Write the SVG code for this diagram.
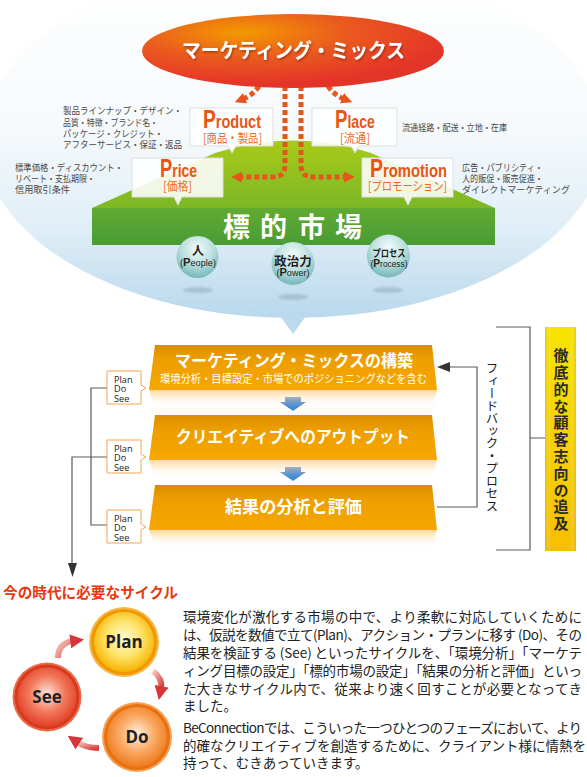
<svg xmlns="http://www.w3.org/2000/svg" width="587" height="777" viewBox="0 0 587 777">
<defs>
<style>
.desc{font-family:'Noto Sans CJK JP',sans-serif;font-size:9.5px;fill:#4a4a4a}
.lbl{font-family:'Liberation Sans',Arial,sans-serif;fill:#ea5514;font-weight:bold;font-size:19px}
.lbl .cap{font-size:25px}
.sub{font-family:'Noto Sans CJK JP',sans-serif;font-size:12.5px;fill:#ec6c1f}
.box{fill:#fff;fill-opacity:0.88;stroke:#dedede;stroke-width:1}
.dot{fill:none;stroke:#e8541c;stroke-width:5;stroke-dasharray:5 3}
.line{fill:none;stroke:#5a5a5a;stroke-width:1.2}
.pds{fill:#fff;stroke:#f3a64c;stroke-width:1}
.pdst{font-family:'Open Sans','Liberation Sans',sans-serif;font-size:9.2px;fill:#222}
.bt{font-family:'Noto Sans CJK JP',sans-serif;font-size:13.5px;fill:#222}
.ban{font-family:'Noto Sans CJK JP',sans-serif;font-weight:bold;fill:#fff}
.cyc{font-family:'Open Sans','Liberation Sans',sans-serif;font-weight:bold;font-size:17px;fill:#222;text-anchor:middle}
.sph{font-family:'Noto Sans CJK JP',sans-serif;font-weight:bold;fill:#222;text-anchor:middle}
.sphl{font-family:'Liberation Sans',Arial,sans-serif;fill:#222;text-anchor:middle;font-size:9px}
.sphl .cap{font-weight:bold;font-size:11px}
</style>
<linearGradient id="bowlG" x1="0" y1="0" x2="0" y2="1">
<stop offset="0" stop-color="#ffffff"/>
<stop offset="0.45" stop-color="#f7fafc"/>
<stop offset="0.75" stop-color="#e0eef7"/>
<stop offset="1" stop-color="#b8d8ed"/>
</linearGradient>
<radialGradient id="mixG" cx="0.33" cy="0.25" r="0.7">
<stop offset="0" stop-color="#f39a00"/>
<stop offset="0.5" stop-color="#ea5a1f"/>
<stop offset="1" stop-color="#e43428"/>
</radialGradient>
<linearGradient id="hillG" x1="0" y1="0" x2="0" y2="1">
<stop offset="0" stop-color="#a9ca18"/>
<stop offset="1" stop-color="#7db726"/>
</linearGradient>
<linearGradient id="frontG" x1="0" y1="0" x2="0" y2="1">
<stop offset="0" stop-color="#62ab31"/>
<stop offset="1" stop-color="#489b36"/>
</linearGradient>
<radialGradient id="sphG" cx="0.5" cy="0.3" r="0.7">
<stop offset="0" stop-color="#f4fbfb"/>
<stop offset="0.55" stop-color="#b9dedd"/>
<stop offset="1" stop-color="#76b8bb"/>
</radialGradient>
<linearGradient id="banG" x1="0" y1="0" x2="0" y2="1">
<stop offset="0" stop-color="#d98e00"/>
<stop offset="0.35" stop-color="#ee9f00"/>
<stop offset="1" stop-color="#f6a700"/>
</linearGradient>
<linearGradient id="refG" x1="0" y1="0" x2="0" y2="1">
<stop offset="0" stop-color="#fbd89a"/>
<stop offset="1" stop-color="#ffffff" stop-opacity="0"/>
</linearGradient>
<linearGradient id="blueG" x1="0" y1="0" x2="0" y2="1">
<stop offset="0" stop-color="#1c5db0"/>
<stop offset="1" stop-color="#4795dc"/>
</linearGradient>
<linearGradient id="yelG" x1="0" y1="0" x2="0" y2="1">
<stop offset="0" stop-color="#f6e500"/>
<stop offset="1" stop-color="#f6bf00"/>
</linearGradient>
<linearGradient id="yelE" x1="0" y1="0" x2="1" y2="0">
<stop offset="0" stop-color="#d9a800" stop-opacity="0.45"/>
<stop offset="0.2" stop-color="#ffffff" stop-opacity="0"/>
<stop offset="0.8" stop-color="#ffffff" stop-opacity="0"/>
<stop offset="1" stop-color="#d9a800" stop-opacity="0.45"/>
</linearGradient>
<radialGradient id="planG" cx="0.5" cy="0.45" r="0.55">
<stop offset="0" stop-color="#fffbd6"/>
<stop offset="0.55" stop-color="#fde36a"/>
<stop offset="1" stop-color="#f6b400"/>
</radialGradient>
<radialGradient id="seeG" cx="0.5" cy="0.45" r="0.55">
<stop offset="0" stop-color="#fde6de"/>
<stop offset="0.55" stop-color="#f27a5c"/>
<stop offset="1" stop-color="#e2402a"/>
</radialGradient>
<radialGradient id="doG" cx="0.5" cy="0.45" r="0.55">
<stop offset="0" stop-color="#fef1e2"/>
<stop offset="0.55" stop-color="#f9a862"/>
<stop offset="1" stop-color="#ee7c1e"/>
</radialGradient>
<linearGradient id="cArrG" x1="0" y1="0" x2="1" y2="1">
<stop offset="0" stop-color="#f6cfc6"/>
<stop offset="1" stop-color="#d8403c"/>
</linearGradient>
<marker id="dotHead" markerUnits="userSpaceOnUse" markerWidth="11" markerHeight="11" viewBox="0 0 10 10" refX="2" refY="5" orient="auto">
<path d="M0,0 L10,5 L0,10 z" fill="#e8541c"/>
</marker>
<marker id="cHead" markerUnits="userSpaceOnUse" markerWidth="14" markerHeight="14" viewBox="0 0 10 10" refX="2" refY="5" orient="auto">
<path d="M0,0 L10,5 L0,10 z" fill="#d6363a"/>
</marker>
<filter id="tsh" x="-10%" y="-30%" width="120%" height="160%">
<feDropShadow dx="1" dy="1.5" stdDeviation="1" flood-color="#7a1a00" flood-opacity="0.6"/>
</filter>
<filter id="blur" x="-30%" y="-100%" width="160%" height="300%">
<feGaussianBlur stdDeviation="1.2"/>
</filter>
</defs>

<rect width="587" height="777" fill="#ffffff"/>

<g id="background">
<ellipse cx="293" cy="140" rx="310" ry="178" fill="url(#bowlG)"/>
<polygon points="280,316 306,316 293,334" fill="#bcdaee"/>
</g>

<g id="node-market">
<path d="M92,208 L215,153 Q293,128 371,153 L495,208 Z" fill="url(#hillG)"/>
<rect x="92" y="208" width="403" height="37" fill="url(#frontG)"/>
<text font-family="'Noto Sans CJK JP',sans-serif" font-weight="bold" font-size="27" fill="#fff" x="223 260 298 335" y="237">標的市場</text>
</g>

<g id="connectors">
<path class="dot" d="M259,86 Q253,95 243,99" marker-end="url(#dotHead)"/>
<path class="dot" d="M328,86 Q334,95 344,99" marker-end="url(#dotHead)"/>
<path class="dot" d="M285,86 L285,165 Q285,177 273,177 L240,177" marker-end="url(#dotHead)"/>
<path class="dot" d="M301,86 L301,165 Q301,177 313,177 L346,177" marker-end="url(#dotHead)"/>
<path class="line" d="M107,388 H91 V525 H107"/>
<path class="line" d="M107,457 H72 V565"/>
<polygon points="68,563 77,563 72.5,577" fill="#333"/>
<path class="line" d="M437,507 H477 V367 H449"/>
<polygon points="437,367 450,362 450,372" fill="#333"/>
<path class="line" d="M496,327 H530 V550 H496 M530,438 H545"/>
<path d="M285,397 H301 V402 H306 L293,411 L280,402 H285 Z" fill="url(#blueG)"/>
<path d="M285,467 H301 V472 H306 L293,481 L280,472 H285 Z" fill="url(#blueG)"/>
<path d="M58,658 Q58,643 73,641" fill="none" stroke="url(#cArrG)" stroke-width="6" marker-end="url(#cHead)"/>
<path d="M153,671 Q163,679 161,689" fill="none" stroke="url(#cArrG)" stroke-width="6" marker-end="url(#cHead)"/>
<path d="M99,748 Q86,748 77,742" fill="none" stroke="url(#cArrG)" stroke-width="6" marker-end="url(#cHead)"/>
</g>

<g id="node-mix">
<ellipse cx="293" cy="51" rx="151" ry="37" fill="url(#mixG)"/>
<text x="182" y="58" font-family="'Noto Sans CJK JP',sans-serif" font-weight="bold" font-size="20.5" fill="#fff" filter="url(#tsh)" textLength="223" lengthAdjust="spacingAndGlyphs">マーケティング・ミックス</text>
</g>

<g id="node-product">
<path class="box" d="M190,108 H273 V146 H236 L232,153 L228,146 H190 Z"/>
<text class="lbl" x="203" y="128" textLength="58" lengthAdjust="spacingAndGlyphs"><tspan class="cap">P</tspan>roduct</text>
<text class="sub" x="203" y="143" textLength="59" lengthAdjust="spacingAndGlyphs">[商品・製品]</text>
<g class="desc">
<text x="63" y="114" textLength="119" lengthAdjust="spacingAndGlyphs">製品ラインナップ・デザイン・</text>
<text x="63" y="126" textLength="95" lengthAdjust="spacingAndGlyphs">品質・特徴・ブランド名・</text>
<text x="63" y="137" textLength="100" lengthAdjust="spacingAndGlyphs">パッケージ・クレジット・</text>
<text x="63" y="148" textLength="119" lengthAdjust="spacingAndGlyphs">アフターサービス・保証・返品</text>
</g>
</g>

<g id="node-place">
<path class="box" d="M312,108 H397 V146 H359 L355,153 L351,146 H312 Z"/>
<text class="lbl" x="335" y="128" textLength="40" lengthAdjust="spacingAndGlyphs"><tspan class="cap">P</tspan>lace</text>
<text class="sub" x="340" y="143" textLength="30" lengthAdjust="spacingAndGlyphs">[流通]</text>
<text class="desc" x="402" y="131" textLength="105" lengthAdjust="spacingAndGlyphs">流通経路・配送・立地・在庫</text>
</g>

<g id="node-price">
<path class="box" d="M132,158 H223 V197 H182 L178,205 L174,197 H132 Z"/>
<text class="lbl" x="160" y="177" textLength="37" lengthAdjust="spacingAndGlyphs"><tspan class="cap">P</tspan>rice</text>
<text class="sub" x="163" y="191" textLength="29" lengthAdjust="spacingAndGlyphs">[価格]</text>
<g class="desc">
<text x="15" y="171" textLength="108" lengthAdjust="spacingAndGlyphs">標準価格・ディスカウント・</text>
<text x="15" y="182" textLength="80" lengthAdjust="spacingAndGlyphs">リベート・支払期限・</text>
<text x="15" y="193" textLength="55" lengthAdjust="spacingAndGlyphs">信用取引条件</text>
</g>
</g>

<g id="node-promotion">
<path class="box" d="M362,158 H453 V197 H412 L408,205 L404,197 H362 Z"/>
<text class="lbl" x="370" y="177" textLength="77" lengthAdjust="spacingAndGlyphs"><tspan class="cap">P</tspan>romotion</text>
<text class="sub" x="368" y="191" textLength="79" lengthAdjust="spacingAndGlyphs">[プロモーション]</text>
<g class="desc">
<text x="462" y="171" textLength="81" lengthAdjust="spacingAndGlyphs">広告・パブリシティ・</text>
<text x="462" y="182" textLength="81" lengthAdjust="spacingAndGlyphs">人的販促・販売促進・</text>
<text x="462" y="193" textLength="108" lengthAdjust="spacingAndGlyphs">ダイレクトマーケティング</text>
</g>
</g>

<g id="node-people">
<ellipse cx="198" cy="290" rx="15" ry="3" fill="#9db6c3" opacity="0.7" filter="url(#blur)"/>
<circle cx="197.5" cy="257" r="21" fill="url(#sphG)"/>
<text class="sph" x="198" y="255" font-size="12">人</text>
<text class="sphl" x="198" y="266" textLength="36" lengthAdjust="spacingAndGlyphs">(<tspan class="cap">P</tspan>eople)</text>
</g>
<g id="node-power">
<ellipse cx="293" cy="297" rx="15" ry="3" fill="#9db6c3" opacity="0.7" filter="url(#blur)"/>
<circle cx="293" cy="263.5" r="21.5" fill="url(#sphG)"/>
<text class="sph" x="293" y="266" font-size="12.5">政治力</text>
<text class="sphl" x="293" y="276" textLength="33" lengthAdjust="spacingAndGlyphs">(<tspan class="cap">P</tspan>ower)</text>
</g>
<g id="node-process">
<ellipse cx="388" cy="290" rx="15" ry="3" fill="#9db6c3" opacity="0.7" filter="url(#blur)"/>
<circle cx="388.5" cy="256" r="21.5" fill="url(#sphG)"/>
<text class="sph" x="389" y="257" font-size="10.5" textLength="33" lengthAdjust="spacingAndGlyphs">プロセス</text>
<text class="sphl" x="389" y="267" textLength="37" lengthAdjust="spacingAndGlyphs">(<tspan class="cap">P</tspan>rocess)</text>
</g>

<g id="node-step1">
<polygon points="149,390 437,390 432,408 155,408" fill="url(#refG)"/>
<polygon points="155,345 432,345 437,390 149,390" fill="url(#banG)"/>
<text class="ban" x="175" y="367" font-size="16.5" textLength="238" lengthAdjust="spacingAndGlyphs">マーケティング・ミックスの構築</text>
<text x="160" y="383" font-family="'Noto Sans CJK JP',sans-serif" font-size="10.8" fill="#fff" textLength="267" lengthAdjust="spacingAndGlyphs">環境分析・目標設定・市場でのポジショニングなどを含む</text>
</g>
<g id="node-step2">
<polygon points="149,460 437,460 432,478 155,478" fill="url(#refG)"/>
<polygon points="155,415 432,415 437,460 149,460" fill="url(#banG)"/>
<text class="ban" x="176" y="443" font-size="16.5" textLength="234" lengthAdjust="spacingAndGlyphs">クリエイティブへのアウトプット</text>
</g>
<g id="node-step3">
<polygon points="149,530 437,530 432,548 155,548" fill="url(#refG)"/>
<polygon points="155,485 432,485 437,530 149,530" fill="url(#banG)"/>
<text class="ban" x="225" y="513" font-size="17" textLength="137" lengthAdjust="spacingAndGlyphs">結果の分析と評価</text>
</g>

<g id="node-pds1">
<path class="pds" d="M107,371 H141 V385 L146,388 L141,391 V404 H107 Z"/>
<text class="pdst" x="114" y="382.5">Plan</text>
<text class="pdst" x="114" y="392">Do</text>
<text class="pdst" x="114" y="401.5">See</text>
</g>
<g id="node-pds2">
<path class="pds" d="M107,440 H141 V454 L146,457 L141,460 V473 H107 Z"/>
<text class="pdst" x="114" y="451.5">Plan</text>
<text class="pdst" x="114" y="461">Do</text>
<text class="pdst" x="114" y="470.5">See</text>
</g>
<g id="node-pds3">
<path class="pds" d="M107,510 H141 V524 L146,527 L141,530 V543 H107 Z"/>
<text class="pdst" x="114" y="521.5">Plan</text>
<text class="pdst" x="114" y="531">Do</text>
<text class="pdst" x="114" y="540.5">See</text>
</g>

<g id="node-feedback">
<text x="492" y="362" font-family="'Noto Sans CJK JP',sans-serif" font-size="12.5" fill="#222" style="writing-mode:vertical-rl">フィードバック・プロセス</text>
</g>

<g id="node-customer">
<rect x="545" y="327" width="31" height="224" fill="url(#yelG)"/>
<rect x="545" y="327" width="31" height="224" fill="url(#yelE)"/>
<text x="561" y="348" font-family="'Noto Sans CJK JP',sans-serif" font-weight="bold" font-size="15" letter-spacing="1.8" fill="#2a2a2a" style="writing-mode:vertical-rl">徹底的な顧客志向の追及</text>
</g>

<g id="node-cycle-title">
<text x="3" y="598" font-family="'Noto Sans CJK JP',sans-serif" font-weight="bold" font-size="15" fill="#e8380d" textLength="175" lengthAdjust="spacingAndGlyphs">今の時代に必要なサイクル</text>
</g>

<g id="node-plan">
<circle cx="124" cy="642" r="35" fill="#f7b847"/>
<circle cx="124" cy="642" r="33" fill="#f29600"/>
<circle cx="124" cy="642" r="30" fill="url(#planG)"/>
<text class="cyc" x="124" y="648">Plan</text>
</g>
<g id="node-see">
<circle cx="47" cy="697" r="34.5" fill="#ea6a4a"/>
<circle cx="47" cy="697" r="32.5" fill="#d63c1c"/>
<circle cx="47" cy="697" r="29.5" fill="url(#seeG)"/>
<text class="cyc" x="47" y="703">See</text>
</g>
<g id="node-do">
<circle cx="137" cy="737" r="35" fill="#f4a055"/>
<circle cx="137" cy="737" r="33" fill="#e8700e"/>
<circle cx="137" cy="737" r="30" fill="url(#doG)"/>
<text class="cyc" x="137" y="743">Do</text>
</g>

<g id="body-text" class="bt">
<text x="183" y="622" textLength="399" lengthAdjust="spacing">環境変化が激化する市場の中で、より柔軟に対応していくために</text>
<text x="183" y="640" textLength="399" lengthAdjust="spacing">は、仮説を数値で立て(Plan)、アクション・プランに移す (Do)、その</text>
<text x="183" y="658" textLength="399" lengthAdjust="spacing">結果を検証する (See) といったサイクルを、「環境分析」「マーケテ</text>
<text x="183" y="676" textLength="399" lengthAdjust="spacing">ィング目標の設定」「標的市場の設定」「結果の分析と評価」といっ</text>
<text x="183" y="694" textLength="399" lengthAdjust="spacing">た大きなサイクル内で、従来より速く回すことが必要となってき</text>
<text x="183" y="711">ました。</text>
<text x="183" y="733" textLength="399" lengthAdjust="spacing">BeConnectionでは、こういった一つひとつのフェーズにおいて、より</text>
<text x="183" y="751">的確なクリエイティブを創造するために、クライアント様に情熱を</text>
<text x="183" y="768">持って、むきあっていきます。</text>
</g>
</svg>
